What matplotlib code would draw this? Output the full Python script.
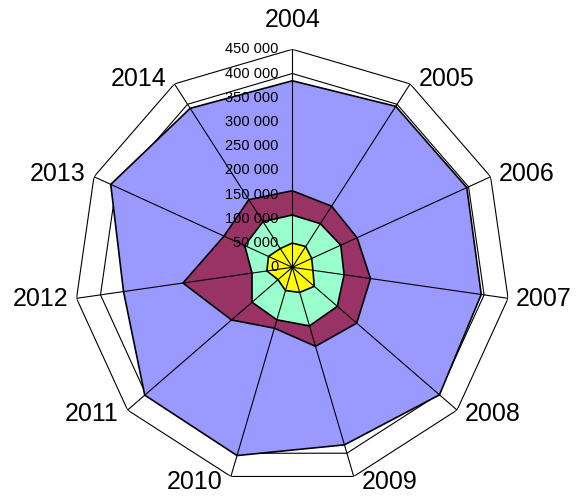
import numpy as np
import matplotlib
matplotlib.use("Agg")
import matplotlib.pyplot as plt

plt.rcParams['font.family'] = ['Liberation Sans', 'DejaVu Sans']

years = ['2004', '2005', '2006', '2007', '2008', '2009', '2010', '2011', '2012', '2013', '2014']
series_blue = [385000, 395000, 396000, 394000, 402000, 382000, 405000, 403000, 352000, 412000, 390000]
series_maroon = [158000, 150000, 147000, 163000, 176000, 170000, 131000, 166000, 228000, 155000, 166000]
series_green = [108000, 107000, 110000, 108000, 123000, 126000, 113000, 110000, 84000, 108000, 112000]
series_yellow = [50000, 51000, 44000, 43000, 60000, 54000, 50000, 39000, 53000, 54000, 46000]
levels = [0, 50000, 100000, 150000, 200000, 250000, 300000, 350000, 400000, 450000]

n = len(years)
theta = np.arange(n) * 2 * np.pi / n
theta_c = np.append(theta, theta[0])
rmax = levels[-1]

fig = plt.figure(figsize=(5.76, 4.96), dpi=100)
ax = fig.add_axes([74.3 / 576, 10.7 / 496, 436 / 576, 436 / 496], projection='polar')
ax.set_theta_zero_location('N')
ax.set_theta_direction(-1)
ax.set_ylim(0, rmax)
ax.spines['polar'].set_visible(False)
ax.grid(False)
ax.set_xticks([])
ax.set_yticks([])
ax.patch.set_visible(False)

# polygon grid (hidden under the fills)
for lv in levels[1:]:
    ax.plot(theta_c, [lv] * (n + 1), color='black', lw=0.8, zorder=1)

for vals, col in [(series_blue, '#9999FF'), (series_maroon, '#993366'),
                  (series_green, '#99FFCC'), (series_yellow, '#FFFF00')]:
    v = np.append(vals, vals[0])
    ax.fill(theta_c, v, facecolor=col, edgecolor='black', lw=1.2, zorder=2)

# spokes on top
for t in theta:
    ax.plot([t, t], [0, rmax], color='black', lw=0.8, zorder=3)

# value labels along the first spoke
for lv in levels:
    ax.annotate(f"{lv:,}".replace(",", " "), xy=(0, lv), xytext=(-14, 0),
                textcoords='offset pixels', ha='right', va='center',
                fontsize=10.5, zorder=4)

# category labels, placed next to the outer vertex
for t, lab in zip(theta, years):
    s, c = np.sin(t), np.cos(t)
    if abs(s) < 0.1:
        dx, dy = 0, 29
    else:
        dx, dy = 36 * np.sign(s), 6 * c
    ax.annotate(lab, xy=(t, rmax), xytext=(dx, dy), textcoords='offset pixels',
                ha='center', va='center', fontsize=18, annotation_clip=False)

fig.savefig('out.png', dpi=100)
